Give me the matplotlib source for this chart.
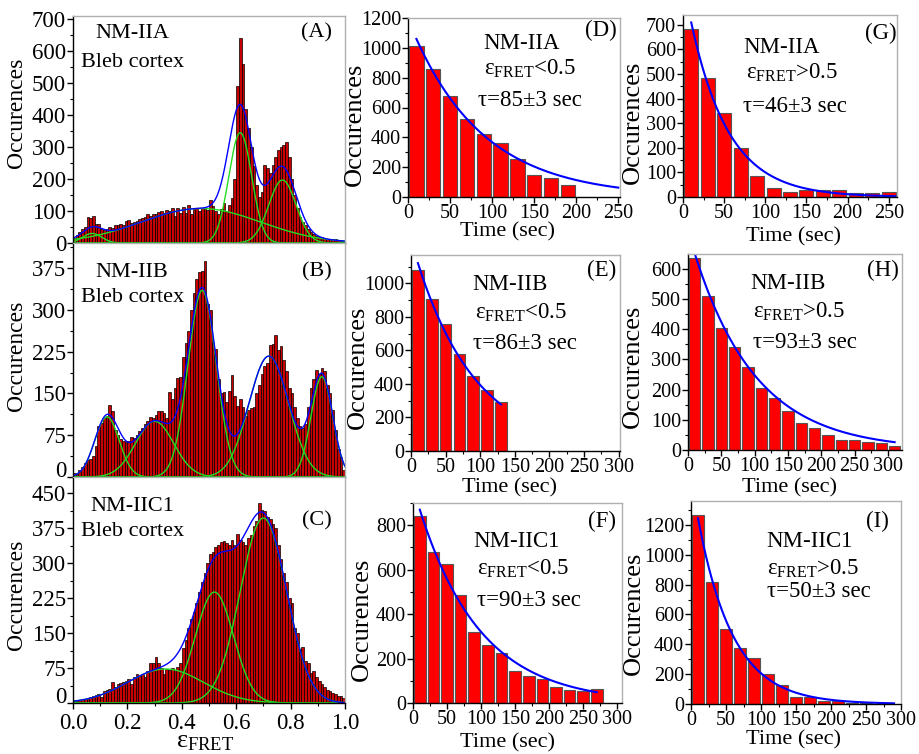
import numpy as np
import matplotlib
matplotlib.use("Agg")
from matplotlib import pyplot as plt
from matplotlib.ticker import MultipleLocator

plt.rcParams['font.family'] = ['Liberation Serif', 'DejaVu Serif']
plt.rcParams['mathtext.fontset'] = 'custom'
plt.rcParams['mathtext.rm'] = 'Liberation Serif'
plt.rcParams['mathtext.it'] = 'Liberation Serif:italic'
plt.rcParams['mathtext.bf'] = 'Liberation Serif:bold'

W, H = 919, 754

# FRET efficiency histograms, 100 bins of width 0.01
eff_bins = np.arange(100) / 100.0
countsA = [15, 25, 35, 45, 50, 80, 78, 83, 60, 60,
           45, 40, 45, 50, 47, 55, 55, 60, 55, 70,
           72, 62, 65, 68, 75, 78, 80, 90, 85, 92,
           90, 98, 100, 95, 102, 100, 108, 85, 110, 95,
           112, 95, 118, 90, 105, 108, 100, 110, 108, 102,
           133, 115, 100, 90, 105, 125, 100, 120, 140, 200,
           490, 640, 560, 420, 360, 300, 240, 180, 145, 160,
           245, 235, 220, 245, 270, 290, 300, 308, 315, 270,
           200, 150, 110, 80, 65, 55, 45, 35, 28, 22,
           20, 18, 15, 14, 12, 14, 12, 10, 9, 7]
countsB = [8, 5, 12, 18, 25, 30, 33, 38, 55, 92,
           97, 105, 110, 130, 118, 85, 75, 68, 64, 62,
           65, 72, 70, 75, 82, 88, 95, 100, 108, 105,
           112, 118, 118, 115, 105, 152, 140, 160, 178, 180,
           215, 240, 262, 300, 330, 355, 368, 370, 387, 310,
           300, 240, 230, 175, 150, 152, 135, 155, 183, 145,
           128, 140, 125, 110, 120, 123, 125, 150, 165, 185,
           200, 205, 237, 238, 255, 228, 235, 210, 190, 160,
           150, 125, 105, 92, 88, 95, 125, 160, 175, 192,
           185, 195, 190, 165, 150, 120, 85, 50, 35, 12]
countsC = [5, 6, 7, 8, 9, 10, 12, 15, 18, 20,
           12, 25, 28, 30, 45, 35, 40, 42, 45, 48,
           52, 40, 55, 62, 58, 62, 55, 68, 85, 85,
           98, 85, 75, 62, 72, 70, 75, 70, 78, 85,
           118, 135, 160, 180, 195, 215, 238, 260, 280, 300,
           320, 325, 335, 340, 345, 348, 343, 340, 350, 340,
           362, 350, 345, 340, 355, 360, 380, 390, 430, 415,
           412, 400, 395, 385, 375, 340, 310, 280, 260, 225,
           215, 160, 150, 115, 120, 90, 85, 65, 68, 55,
           48, 40, 35, 28, 25, 22, 20, 15, 14, 11]

# gaussian fit components (amplitude, centre, sigma)
fitA = [(30, 0.07, 0.035), (108, 0.47, 0.22), (345, 0.615, 0.042), (197, 0.77, 0.05)]
fitB = [(108, 0.125, 0.045), (100, 0.30, 0.07), (335, 0.475, 0.052),
        (217, 0.72, 0.073), (180, 0.915, 0.04)]
fitC = [(73, 0.34, 0.14), (238, 0.52, 0.07), (397, 0.70, 0.085)]

# dwell time histograms, 20 s bins
dwellD = [1015, 855, 675, 525, 420, 365, 255, 145, 130, 80]
dwellE = [1080, 905, 760, 580, 450, 365, 290]
dwellF = [840, 680, 625, 485, 320, 260, 225, 145, 120, 110, 70, 60, 55, 62]
dwellG = [685, 485, 340, 200, 85, 38, 22, 30, 28, 27, 17, 18, 22]
dwellH = [635, 510, 405, 340, 275, 205, 172, 130, 88, 72, 48, 33, 32, 25, 22, 13]
dwellI = [1265, 820, 505, 378, 305, 200, 128, 50, 48, 22, 18, 10, 6]
bin_width = 20
# exponential fits (amplitude, tau, t_end)
expD = (1192, 85, 250)
expE = (1260, 86, 130)
expF = (972, 90, 270)
expG = (882, 46, 258)
expH = (724, 93, 310)
expI = (1520, 50, 290)

fig = plt.figure(figsize=(W / 100, H / 100), dpi=100)


def axes_px(l, r, t, b):
    return fig.add_axes([l / W, 1 - b / H, (r - l) / W, (b - t) / H])


def style(ax, lsize):
    for s in ['left', 'bottom']:
        ax.spines[s].set_color('black')
        ax.spines[s].set_linewidth(1)
    for s in ['top', 'right']:
        ax.spines[s].set_color('#b0b0b0')
        ax.spines[s].set_linewidth(1)
    ax.tick_params(which='major', direction='out', length=4, width=1, labelsize=lsize, pad=1)
    ax.tick_params(which='minor', direction='out', length=2.5, width=0.8)


def ftext(px, py, s, size=15, rot=0, ha='center'):
    fig.text(px / W, 1 - py / H, s, fontsize=size, rotation=rot, ha=ha, va='center')


def hist_panel(ax, counts, comps, ytop, ystep):
    ax.bar(eff_bins, counts, width=0.01, align='edge', color='#c80000',
           edgecolor='black', linewidth=0.5)
    xs = np.linspace(0, 1, 500)
    total = np.zeros_like(xs)
    for a, c, s in comps:
        g = a * np.exp(-(xs - c) ** 2 / (2 * s * s))
        total += g
        ax.plot(xs, g, color='#22dd22', lw=1)
    ax.plot(xs, total, color='#0000ff', lw=1)
    ax.set_xlim(0, 1.0)
    ax.set_ylim(0, ytop)
    ax.yaxis.set_major_locator(MultipleLocator(ystep))
    ax.yaxis.set_minor_locator(MultipleLocator(ystep / 2))
    ax.xaxis.set_major_locator(MultipleLocator(0.2))
    ax.xaxis.set_minor_locator(MultipleLocator(0.1))
    style(ax, 16.5)


axA = axes_px(73, 345, 16, 243)
hist_panel(axA, countsA, fitA, 710, 100)
axB = axes_px(73, 345, 243, 477)
hist_panel(axB, countsB, fitB, 420, 75)
axC = axes_px(73, 345, 477, 703)
hist_panel(axC, countsC, fitC, 485, 75)
for ax in (axA, axB):
    ax.tick_params(axis='x', which='both', labelbottom=False, length=0)
axC.tick_params(axis='x', pad=3)
axC.xaxis.set_major_formatter(lambda v, p: f"{v:.1f}")

# the "0" of the lower two stacked panels is drawn a little higher so it clears its neighbours
for ax in (axB, axC):
    ax.yaxis.set_major_formatter(lambda v, p: '' if v == 0 else f"{v:g}")
    ax.annotate('0', xy=(0, 0), xycoords='axes fraction', xytext=(-4.5, 4),
                textcoords='offset points', ha='right', va='center', fontsize=16.5)

for ax, name, tag, yy in [(axA, 'NM-IIA', '(A)', (0.925, 0.797, 0.925)),
                          (axB, 'NM-IIB', '(B)', (0.876, 0.769, 0.876)),
                          (axC, 'NM-IIC1', '(C)', (0.871, 0.76, 0.804))]:
    ax.text(0.217, yy[0], name, transform=ax.transAxes, fontsize=16, ha='center', va='center')
    ax.text(0.219, yy[1], 'Bleb cortex', transform=ax.transAxes, fontsize=16, ha='center', va='center')
    ax.text(0.895, yy[2], tag, transform=ax.transAxes, fontsize=16, ha='center', va='center')

ftext(17, 113, 'Occurences', size=17, rot=90)
ftext(17, 356, 'Occurences', size=17, rot=90)
ftext(17, 595, 'Occurences', size=17, rot=90)
ftext(205, 742, r'ε$_{\rm FRET}$', size=19)


def dwell_panel(box, counts, fit, xlim, ylim, ystep, name, cond, tau, tag, pos, ylab, xlab):
    ax = axes_px(*box)
    t = bin_width / 2 + bin_width * np.arange(len(counts))
    ax.bar(t, counts, width=17, color='#ff0000', edgecolor='#555555', linewidth=0.8)
    a, tau_v, t_end = fit
    ts = np.linspace(10, t_end, 300)
    ax.plot(ts, a * np.exp(-ts / tau_v), color='#0000ff', lw=1.5)
    ax.set_xlim(*xlim)
    ax.set_ylim(*ylim)
    ax.yaxis.set_major_locator(MultipleLocator(ystep))
    ax.yaxis.set_minor_locator(MultipleLocator(ystep / 2))
    ax.xaxis.set_major_locator(MultipleLocator(50))
    ax.xaxis.set_minor_locator(MultipleLocator(25))
    style(ax, 14.5)
    (nx, ny), (cx, cy), (tx, ty), (gx, gy) = pos
    ax.text(nx, ny, name, transform=ax.transAxes, fontsize=16.5, ha='center', va='center')
    ax.text(cx, cy, 'ε$_{\\rm FRET}$' + cond, transform=ax.transAxes, fontsize=16.5, ha='left', va='center')
    ax.text(tx, ty, tau, transform=ax.transAxes, fontsize=16.5, ha='left', va='center')
    ax.text(gx, gy, tag, transform=ax.transAxes, fontsize=16.5, ha='center', va='center')
    ftext(ylab[0], ylab[1], 'Occurences', size=19, rot=90)
    ftext(xlab[0], xlab[1], 'Time (sec)', size=16)
    return ax


dwell_panel((408, 620, 18, 197), dwellD, expD, (0, 252), (0, 1200), 200,
            'NM-IIA', '<0.5', 'τ=85±3 sec', '(D)',
            ((0.536, 0.86), (0.36, 0.715), (0.33, 0.54), (0.91, 0.93)), (355, 124), (508, 232))
dwell_panel((683, 897, 15, 197), dwellG, expG, (0, 260), (0, 740), 100,
            'NM-IIA', '>0.5', 'τ=46±3 sec', '(G)',
            ((0.46, 0.824), (0.294, 0.68), (0.279, 0.50), (0.926, 0.90)), (633, 122), (793, 237))
dwell_panel((411, 620, 255, 451), dwellE, expE, (0, 302), (0, 1170), 200,
            'NM-IIB', '<0.5', 'τ=86±3 sec', '(E)',
            ((0.474, 0.847), (0.306, 0.704), (0.297, 0.55), (0.913, 0.923)), (358, 367), (510, 488))
dwell_panel((688, 902, 254, 450), dwellH, expH, (0, 321), (0, 648), 100,
            'NM-IIB', '>0.5', 'τ=93±3 sec', '(H)',
            ((0.467, 0.852), (0.302, 0.704), (0.302, 0.551), (0.91, 0.918)), (633, 366), (790, 488))
dwell_panel((413, 622, 503, 703), dwellF, expF, (0, 307), (0, 900), 200,
            'NM-IIC1', '<0.5', 'τ=90±3 sec', '(F)',
            ((0.496, 0.807), (0.305, 0.67), (0.305, 0.515), (0.903, 0.906)), (362, 619), (508, 743))
dwell_panel((691, 901, 501, 704), dwellI, expI, (0, 300), (0, 1360), 200,
            'NM-IIC1', '>0.5', 'τ=50±3 sec', '(I)',
            ((0.562, 0.80), (0.363, 0.665), (0.363, 0.553), (0.89, 0.898)), (634, 613), (793, 740))

fig.savefig('out.png', dpi=100, facecolor='white')
